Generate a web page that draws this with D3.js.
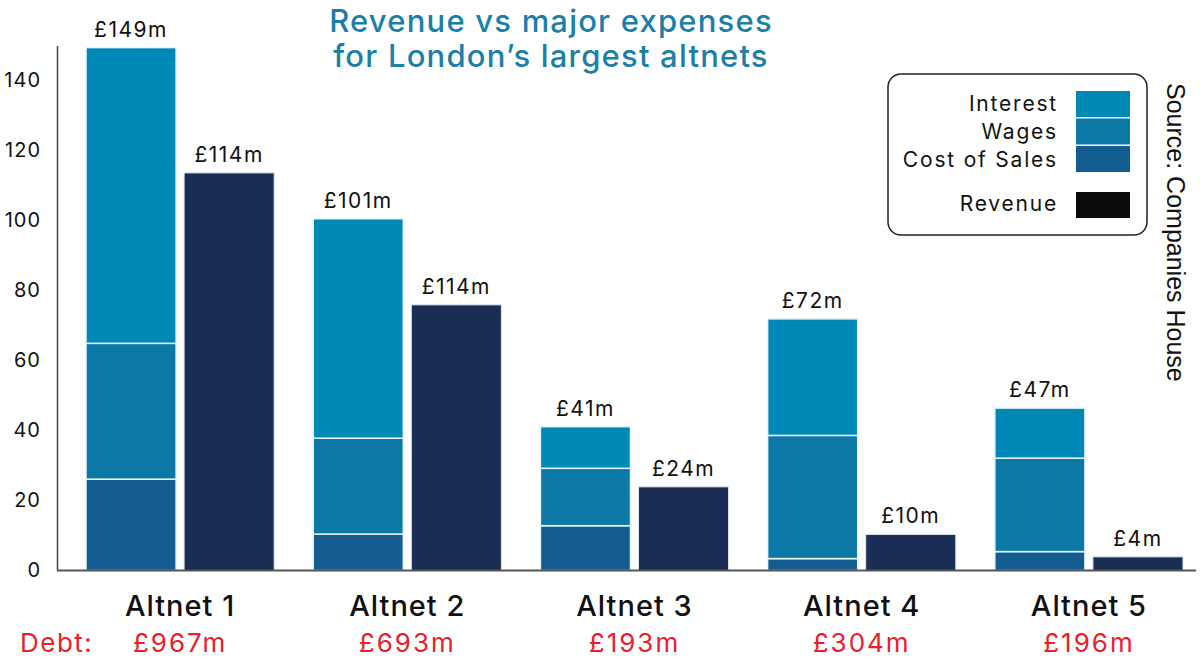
<!DOCTYPE html>
<html>
<head>
<meta charset="utf-8">
<script src="https://d3js.org/d3.v7.min.js"></script>
<style>
  body { margin: 0; background: #fff; }
  text { font-family: Inter, "Noto Sans", sans-serif; }
</style>
</head>
<body>
<svg id="chart"></svg>
<script>
// values (£m)
var categories = ["Altnet 1", "Altnet 2", "Altnet 3", "Altnet 4", "Altnet 5"];
var costOfSales = [26.1, 10.4, 12.8, 3.4, 5.4];
var wages = [38.8, 27.4, 16.4, 35.2, 26.7];
var interest = [84.5, 62.7, 11.9, 33.3, 14.3];
var revenue = [113.6, 75.9, 23.9, 10.3, 3.9];
var expenseLabels = ["£149m", "£101m", "£41m", "£72m", "£47m"];
var revenueLabels = ["£114m", "£114m", "£24m", "£10m", "£4m"];
var debt = ["£967m", "£693m", "£193m", "£304m", "£196m"];
var yTicks = [0, 20, 40, 60, 80, 100, 120, 140];
var seriesKeys = ["Cost of Sales", "Wages", "Interest"];
var legendKeys = ["Interest", "Wages", "Cost of Sales", "Revenue"];

var width = 1200, height = 662;
var colors = {
  "Interest": "#0088b6",
  "Wages": "#0b78a5",
  "Cost of Sales": "#135c90",
  "Revenue": "#1a2e55"
};

var svg = d3.select("#chart").attr("width", width).attr("height", height);

var x = d3.scaleBand().domain(categories).range([86, 1183]).paddingInner(39 / 227);
var xSub = d3.scaleBand().domain(["exp", "rev"]).range([0, x.bandwidth()]).paddingInner(8 / 98);
var y = d3.scaleLinear().domain([0, 150]).range([570.5, 45.5]);

// title
var title = svg.append("text")
  .attr("x", 551).attr("y", 32)
  .attr("text-anchor", "middle")
  .style("font-size", "31px").style("font-weight", 500)
  .style("letter-spacing", "1.2px")
  .attr("fill", "#1b7fa7");
title.append("tspan").attr("x", 551).attr("dy", 0).text("Revenue vs major expenses");
title.append("tspan").attr("x", 551).attr("dy", 35).text("for London\u2019s largest altnets");

// stacked expenses
var rows = categories.map(function(c, i) {
  return { cat: c, "Cost of Sales": costOfSales[i], "Wages": wages[i], "Interest": interest[i] };
});
var stack = d3.stack().keys(seriesKeys)(rows);

svg.append("g").selectAll("g")
  .data(stack)
  .enter().append("g")
    .attr("fill", function(d) { return colors[d.key]; })
  .selectAll("rect")
  .data(function(d) { return d; })
  .enter().append("rect")
    .attr("x", function(d) { return x(d.data.cat) + xSub("exp"); })
    .attr("y", function(d) { return y(d[1]); })
    .attr("width", xSub.bandwidth())
    .attr("height", function(d) { return y(d[0]) - y(d[1]); })
    .attr("stroke", "#e8f5fb")
    .attr("stroke-width", 1.5);

// revenue bars
svg.append("g").selectAll("rect")
  .data(categories)
  .enter().append("rect")
    .attr("x", function(d) { return x(d) + xSub("rev"); })
    .attr("y", function(d, i) { return y(revenue[i]); })
    .attr("width", xSub.bandwidth())
    .attr("height", function(d, i) { return y(0) - y(revenue[i]); })
    .attr("fill", colors["Revenue"])
    .attr("stroke", "#dbe7f0")
    .attr("stroke-width", 1);

// value labels
svg.append("g").selectAll("text")
  .data(categories)
  .enter().append("text")
    .attr("x", function(d) { return x(d) + xSub("exp") + xSub.bandwidth() / 2; })
    .attr("y", function(d, i) { return y(costOfSales[i] + wages[i] + interest[i]) - 11; })
    .attr("text-anchor", "middle")
    .style("font-size", "21px").style("letter-spacing", "1.5px")
    .attr("fill", "#111")
    .text(function(d, i) { return expenseLabels[i]; });

svg.append("g").selectAll("text")
  .data(categories)
  .enter().append("text")
    .attr("x", function(d) { return x(d) + xSub("rev") + xSub.bandwidth() / 2; })
    .attr("y", function(d, i) { return y(revenue[i]) - 11; })
    .attr("text-anchor", "middle")
    .style("font-size", "21px").style("letter-spacing", "1.5px")
    .attr("fill", "#111")
    .text(function(d, i) { return revenueLabels[i]; });

// y axis
var yAxis = svg.append("g")
  .attr("transform", "translate(57,0)")
  .call(d3.axisLeft(y).tickValues(yTicks).tickSize(0).tickPadding(16));
yAxis.select(".domain").attr("stroke", "#444").attr("stroke-width", 1.5);
yAxis.selectAll("text")
  .style("font-size", "20px")
  .style("letter-spacing", "1px")
  .style("font-family", "Inter, sans-serif")
  .attr("fill", "#111");

// baseline
svg.append("line")
  .attr("x1", 57).attr("x2", 1196)
  .attr("y1", y(0)).attr("y2", y(0))
  .attr("stroke", "#555").attr("stroke-width", 2);

// category labels
svg.append("g").selectAll("text")
  .data(categories)
  .enter().append("text")
    .attr("x", function(d) { return x(d) + x.bandwidth() / 2; })
    .attr("y", 616)
    .attr("text-anchor", "middle")
    .style("font-size", "29px").style("font-weight", 500)
    .style("letter-spacing", "1px")
    .attr("fill", "#111")
    .text(function(d) { return d; });

// debt row
svg.append("text")
  .attr("x", 20).attr("y", 652)
  .style("font-size", "26px").style("letter-spacing", "1.5px")
  .attr("fill", "#e8202a")
  .text("Debt:");

svg.append("g").selectAll("text")
  .data(categories)
  .enter().append("text")
    .attr("x", function(d) { return x(d) + x.bandwidth() / 2; })
    .attr("y", 652)
    .attr("text-anchor", "middle")
    .style("font-size", "26px").style("letter-spacing", "2px")
    .attr("fill", "#e8202a")
    .text(function(d, i) { return debt[i]; });

// legend
var legend = svg.append("g");
legend.append("rect")
  .attr("x", 888).attr("y", 74)
  .attr("width", 259).attr("height", 161)
  .attr("rx", 13)
  .attr("fill", "#fff")
  .attr("stroke", "#222").attr("stroke-width", 1.5);

var swatchY = [91, 118.5, 146, 192];
var labelY = [111, 139, 167, 211];
legendKeys.forEach(function(k, i) {
  legend.append("rect")
    .attr("x", 1076).attr("y", swatchY[i])
    .attr("width", 54).attr("height", 26)
    .attr("fill", k === "Revenue" ? "#0a0b0d" : colors[k]);
  legend.append("text")
    .attr("x", 1058).attr("y", labelY[i])
    .attr("text-anchor", "end")
    .style("font-size", "21px").style("letter-spacing", "1.8px")
    .attr("fill", "#111")
    .text(k);
});

// source
svg.append("text")
  .attr("transform", "translate(1167,83) rotate(90)")
  .style("font-family", "'Liberation Sans', Arial, sans-serif")
  .style("font-size", "25px")
  .attr("fill", "#111")
  .text("Source: Companies House");
</script>
</body>
</html>
